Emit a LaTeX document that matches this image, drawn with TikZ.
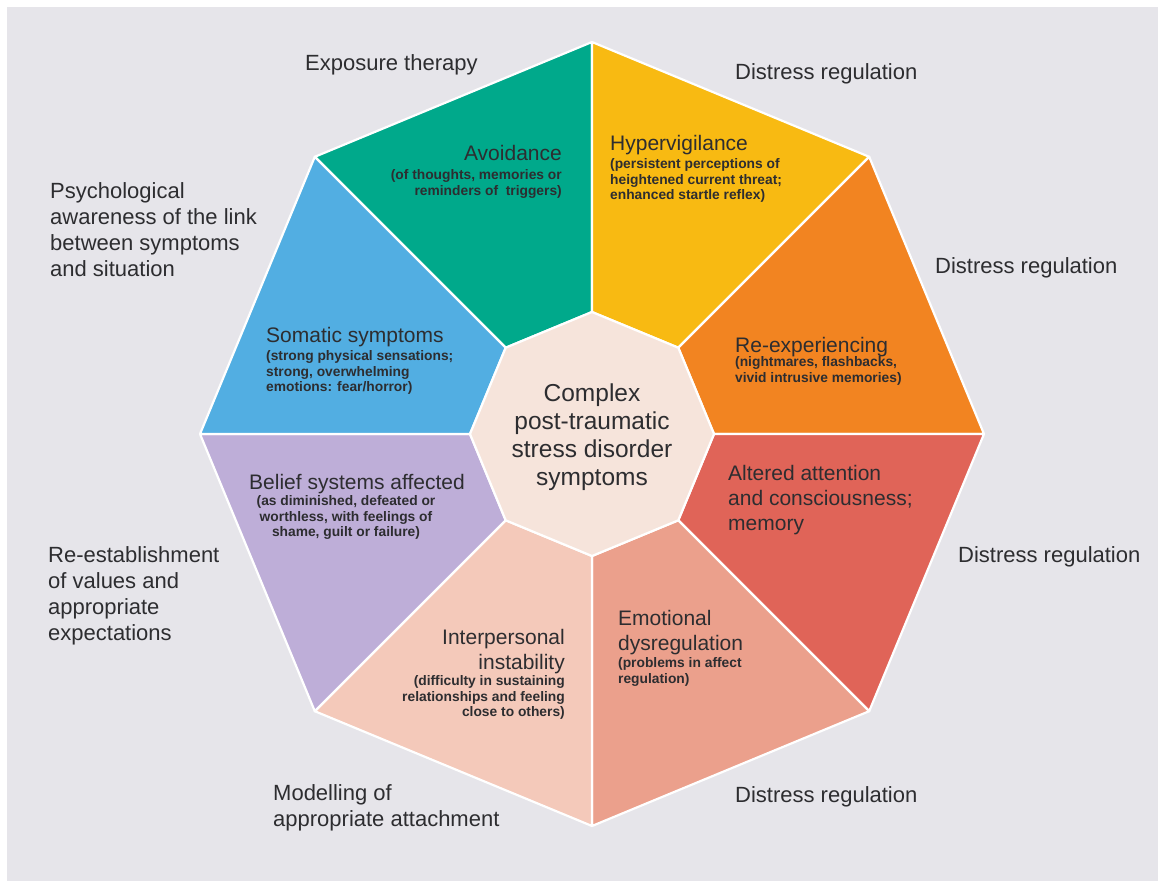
\documentclass[tikz,border=0pt]{standalone}
\usepackage{fontspec}
\setmainfont{Liberation Sans}
\usetikzlibrary{calc}
\definecolor{bg}{RGB}{230,229,234}
\definecolor{txt}{RGB}{45,45,48}
\definecolor{cgreen}{RGB}{0,169,139}
\definecolor{cyellow}{RGB}{248,186,18}
\definecolor{corange}{RGB}{242,132,33}
\definecolor{cred}{RGB}{224,100,88}
\definecolor{csalmon}{RGB}{235,160,140}
\definecolor{cpink}{RGB}{244,201,186}
\definecolor{clav}{RGB}{190,174,216}
\definecolor{cblue}{RGB}{82,174,226}
\definecolor{ccenter}{RGB}{246,228,219}
\begin{document}
\begin{tikzpicture}[x=1pt,y=-1pt,
  lab/.style={font=\fontsize{22}{26}\selectfont, text=txt, inner sep=0pt, align=left, anchor=north west},
  head/.style={font=\fontsize{21}{25}\selectfont, text=txt, inner sep=0pt},
  sub/.style={font=\fontsize{13.8}{15.8}\selectfont\bfseries, text=txt, inner sep=0pt},
  sector/.style={draw=white, line width=2.2pt, line join=round}]
\fill[white] (0,0) rectangle (1163,881);
\fill[bg] (7,7) rectangle (1158,881);
\useasboundingbox (0,0) rectangle (1163,881);
% outer vertices
\coordinate (O1) at (592,42);
\coordinate (O2) at (869.2,156.8);
\coordinate (O3) at (984,434);
\coordinate (O4) at (869.2,711.2);
\coordinate (O5) at (592,826);
\coordinate (O6) at (314.8,711.2);
\coordinate (O7) at (200,434);
\coordinate (O8) at (314.8,156.8);
% inner vertices
\coordinate (I1) at (592,312);
\coordinate (I2) at (678.3,347.7);
\coordinate (I3) at (714,434);
\coordinate (I4) at (678.3,520.3);
\coordinate (I5) at (592,556);
\coordinate (I6) at (505.7,520.3);
\coordinate (I7) at (470,434);
\coordinate (I8) at (505.7,347.7);
% sectors
\filldraw[sector, fill=cgreen]   (O8) -- (O1) -- (I1) -- (I8) -- cycle;
\filldraw[sector, fill=cyellow]  (O1) -- (O2) -- (I2) -- (I1) -- cycle;
\filldraw[sector, fill=corange]  (O2) -- (O3) -- (I3) -- (I2) -- cycle;
\filldraw[sector, fill=cred]     (O3) -- (O4) -- (I4) -- (I3) -- cycle;
\filldraw[sector, fill=csalmon]  (O4) -- (O5) -- (I5) -- (I4) -- cycle;
\filldraw[sector, fill=cpink]    (O5) -- (O6) -- (I6) -- (I5) -- cycle;
\filldraw[sector, fill=clav]     (O6) -- (O7) -- (I7) -- (I6) -- cycle;
\filldraw[sector, fill=cblue]    (O7) -- (O8) -- (I8) -- (I7) -- cycle;
\filldraw[sector, fill=ccenter]  (I1) -- (I2) -- (I3) -- (I4) -- (I5) -- (I6) -- (I7) -- (I8) -- cycle;
% centre text
\node[align=center, text=txt, inner sep=0pt, font=\fontsize{24.5}{28}\selectfont] (centre) at (592,437)
  {Complex\\post-traumatic\\stress disorder\\symptoms};
% sector texts
\node[head, anchor=north east] (avoidH) at (562,145) {Avoidance};
\node[sub, anchor=north east, align=right] (avoidS) at (562,169) {(of thoughts, memories or\\reminders of\ \ triggers)};
\node[head, anchor=north west] (hyperH) at (610,135) {Hypervigilance};
\node[sub, anchor=north west, align=left] (hyperS) at (610,158) {(persistent perceptions of\\heightened current threat;\\enhanced startle reflex)};
\node[head, anchor=north west] (reexH) at (735,337) {Re-experiencing};
\node[sub, anchor=north west, align=left] (reexS) at (735,356) {(nightmares, flashbacks,\\vivid intrusive memories)};
\node[head, anchor=north west, align=left] (altH) at (728,465) {Altered attention\\and consciousness;\\memory};
\node[head, anchor=north west, align=left] (emoH) at (618,610) {Emotional\\dysregulation};
\node[sub, anchor=north west, align=left] (emoS) at (618,657) {(problems in affect\\regulation)};
\node[head, anchor=north east, align=right] (interH) at (565,629) {Interpersonal\\instability};
\node[sub, anchor=north east, align=right] (interS) at (565,675) {(difficulty in sustaining\\relationships and feeling\\close to others)};
\node[head, anchor=north] (beliefH) at (357,474) {Belief systems affected};
\node[sub, anchor=north, align=center] (beliefS) at (346,495) {(as diminished, defeated or\\worthless, with feelings of\\shame, guilt or failure)};
\node[head, anchor=north west] (somH) at (266,327) {Somatic symptoms};
\node[sub, anchor=north west, align=left] (somS) at (266,350) {(strong physical sensations;\\strong, overwhelming\\emotions: fear/horror)};
% outer labels
\node[lab] (l1) at (305,54) {Exposure therapy};
\node[lab] (l2) at (735,63) {Distress regulation};
\node[lab] (l3) at (935,257) {Distress regulation};
\node[lab] (l4) at (958,546) {Distress regulation};
\node[lab] (l5) at (735,786) {Distress regulation};
\node[lab] (l6) at (273,784) {Modelling of\\appropriate attachment};
\node[lab] (l7) at (48,546) {Re-establishment\\of values and\\appropriate\\expectations};
\node[lab] (l8) at (50,182) {Psychological\\awareness of the link\\between symptoms\\and situation};
\end{tikzpicture}
\end{document}
